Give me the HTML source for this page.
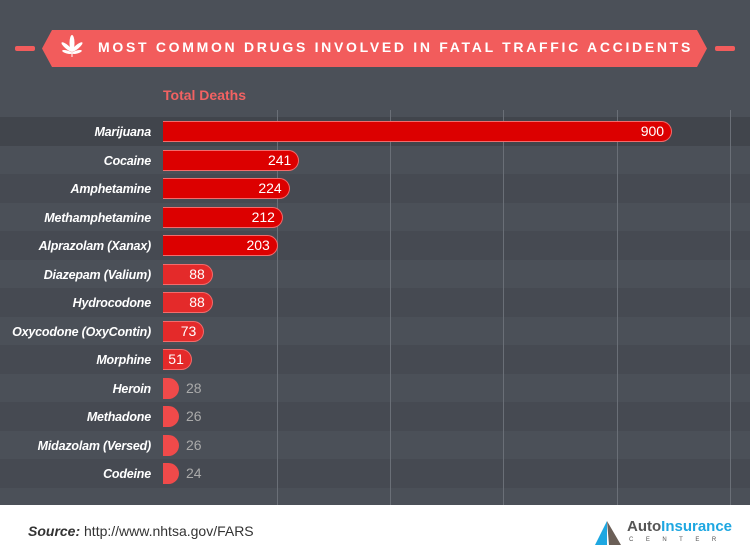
<!DOCTYPE html>
<html><head><style>
body{margin:0;width:750px;height:559px;overflow:hidden;background:#fff;font-family:"Liberation Sans",sans-serif}
#c{position:absolute;left:0;top:0;width:750px;height:505px;background:#4b5058}
.row{position:absolute;left:0;width:750px;height:28.5px}
.lab{position:absolute;right:599px;font-style:italic;font-weight:bold;color:#fff;font-size:12.5px;line-height:30px;white-space:nowrap;letter-spacing:-0.2px}
.bar{position:absolute;left:163px;height:21px;top:4px;border-radius:0 11px 11px 0;box-sizing:border-box;border:1px solid #f36b6b;border-left:none}
.v{position:absolute;color:#fff;font-size:14px;line-height:29px}
.g{position:absolute;top:110px;width:1px;height:395px;background:#6a6f77}
</style></head><body>
<div id="c">
<div style="position:absolute;left:0;top:117px;width:750px;height:28.5px;background:#41454c"></div>
<div style="position:absolute;left:0;top:174px;width:750px;height:28.5px;background:#464a52"></div>
<div style="position:absolute;left:0;top:231px;width:750px;height:28.5px;background:#464a52"></div>
<div style="position:absolute;left:0;top:288px;width:750px;height:28.5px;background:#464a52"></div>
<div style="position:absolute;left:0;top:345px;width:750px;height:28.5px;background:#464a52"></div>
<div style="position:absolute;left:0;top:402px;width:750px;height:28.5px;background:#464a52"></div>
<div style="position:absolute;left:0;top:459px;width:750px;height:28.5px;background:#464a52"></div>
<div class="g" style="left:277px"></div><div class="g" style="left:390px"></div><div class="g" style="left:503px"></div><div class="g" style="left:617px"></div><div class="g" style="left:730px"></div>
<div style="position:absolute;left:15px;top:46px;width:20px;height:5px;background:#f25c5c;border-radius:2px"></div>
<div style="position:absolute;left:715px;top:46px;width:20px;height:5px;background:#f25c5c;border-radius:2px"></div>
<svg style="position:absolute;left:0;top:0" width="750" height="80"><polygon points="52,30 697,30 707,48.5 697,67 52,67 42,48.5" fill="#f25c5c"/>
<g fill="#fff" transform="translate(72,48)"><ellipse cx="0" cy="-5" rx="2.5" ry="8"/><ellipse cx="-5" cy="-1" rx="2" ry="7" transform="rotate(-50 -5 -1)"/><ellipse cx="5" cy="-1" rx="2" ry="7" transform="rotate(50 5 -1)"/><ellipse cx="-5" cy="4" rx="1.5" ry="5" transform="rotate(-75 -5 4)"/><ellipse cx="5" cy="4" rx="1.5" ry="5" transform="rotate(75 5 4)"/><rect x="-0.5" y="3" width="1" height="6"/></g></svg>
<div style="position:absolute;left:98px;top:39px;color:#fff;font-weight:bold;font-size:14px;letter-spacing:2.7px;white-space:nowrap">MOST COMMON DRUGS INVOLVED IN FATAL TRAFFIC ACCIDENTS</div>
<div style="position:absolute;left:163px;top:87px;color:#f26262;font-weight:bold;font-size:14px">Total Deaths</div>
</div>
<div id="rows"></div>
<div style="position:absolute;left:28px;top:523px;font-size:14px;color:#333"><b><i>Source:</i></b> http://www.nhtsa.gov/FARS</div>
<svg style="position:absolute;left:595px;top:521px" width="30" height="26"><polygon points="12,0 0,24 12,24" fill="#1ea7e1"/><polygon points="12,0 26,24 14,24" fill="#6b5f57"/></svg>
<div style="position:absolute;left:627px;top:518px;font-size:15px;font-weight:bold;color:#555">Auto<span style="color:#1ea7e1">Insurance</span></div>
<div style="position:absolute;left:629px;top:537px;font-size:6px;letter-spacing:12.5px;color:#555">CENTER</div>
<script>
var d=[["Marijuana",900],["Cocaine",241],["Amphetamine",224],["Methamphetamine",212],["Alprazolam (Xanax)",203],["Diazepam (Valium)",88],["Hydrocodone",88],["Oxycodone (OxyContin)",73],["Morphine",51],["Heroin",28],["Methadone",26],["Midazolam (Versed)",26],["Codeine",24]];
var h="";d.forEach(function(r,i){var t=117+i*28.5,w=r[1]*0.5656;var col=i<5?"#dc0000":(i<9?"#e42a2a":"#f04a4a");
h+='<div class="row" style="top:'+t+'px"><div class="lab">'+r[0]+'</div>';
if(r[1]>40){h+='<div class="bar" style="width:'+w+'px;background:'+col+'"></div><div class="v" style="right:'+(750-163-w+8)+'px">'+r[1]+'</div>';}
else{h+='<div class="bar" style="width:16px;border:none;background:'+col+'"></div><div class="v" style="left:186px;color:#aaa">'+r[1]+'</div>';}
h+='</div>';});document.getElementById("rows").innerHTML=h;
</script>
</body></html>
